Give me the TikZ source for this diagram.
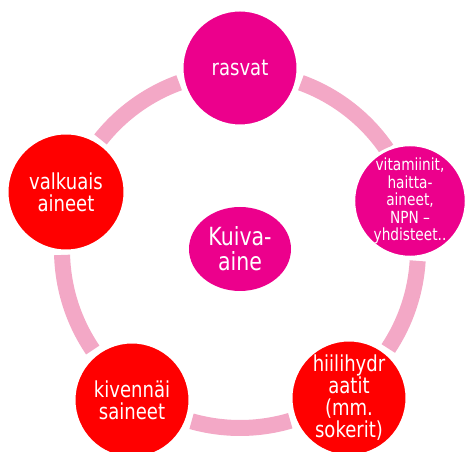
\documentclass[tikz,border=0pt]{standalone}
\usepackage{fontspec}
\setmainfont{DejaVu Sans}[FakeStretch=0.82]
\usetikzlibrary{shapes.geometric,calc}
\definecolor{mag}{RGB}{236,0,140}
\definecolor{redc}{RGB}{255,0,0}
\definecolor{ringc}{RGB}{243,168,198}
\tikzset{
  ball/.style={circle,draw=white,line width=3pt,inner sep=0pt,text=white,align=center},
  ringarc/.style={draw=ringc,line width=16pt,line cap=butt},
  big/.style={font=\fontsize{22}{22}\selectfont},
  small/.style={font=\fontsize{16.7}{17.5}\selectfont}
}
\begin{document}
\begin{tikzpicture}[x=1pt,y=1pt]
\useasboundingbox (0,0) rectangle (466,452);
\coordinate (c) at (240,202);
% ring arcs
\draw[ringarc] ($(c)+(34.5:178)$) arc[start angle=34.5,end angle=70,radius=178];
\draw[ringarc] ($(c)+(-33.6:178)$) arc[start angle=-33.6,end angle=-3.5,radius=178];
\draw[ringarc] ($(c)+(-105.8:178)$) arc[start angle=-105.8,end angle=-73.6,radius=178];
\draw[ringarc] ($(c)+(181.6:178)$) arc[start angle=181.6,end angle=214.2,radius=178];
\draw[ringarc] ($(c)+(110:178)$) arc[start angle=110,end angle=141.6,radius=178];
% nodes
\node[ball,fill=mag,minimum size=116pt,big] (rasvat) at (240,384) {rasvat};
\node[ball,fill=mag,minimum size=110pt,small] (vit) at (410,251) {vitamiinit,\\haitta-\\aineet,\\NPN –\\yhdisteet..};
\node[ball,fill=redc,minimum size=116pt,big] (hh) at (349,54) {hiilihydr\\aatit\\(mm.\\sokerit)};
\node[ball,fill=redc,minimum size=116pt,big] (kiv) at (132,52) {kivennäi\\saineet};
\node[ball,fill=redc,minimum size=118pt,big] (valk) at (66,260) {valkuais\\aineet};
\node[ellipse,fill=mag,minimum width=102pt,minimum height=84pt,inner sep=0pt,text=white,align=center,font=\fontsize{25}{25}\selectfont] (kuiva) at (240,203) {Kuiva-\\aine};
\end{tikzpicture}
\end{document}
